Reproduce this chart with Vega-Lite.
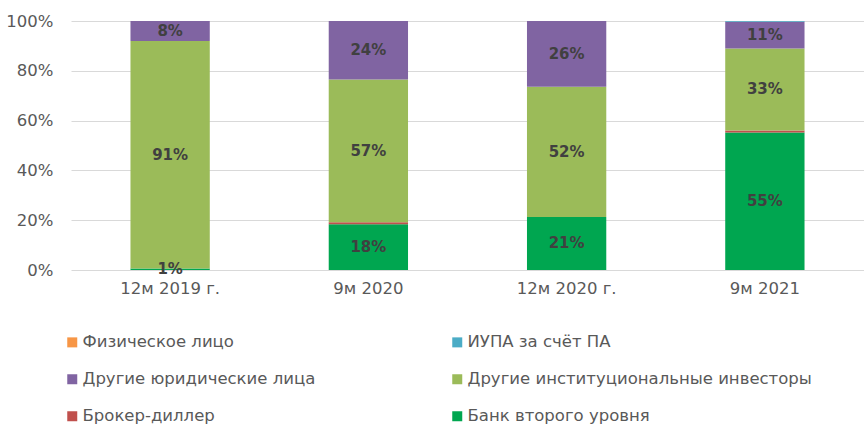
{
  "$schema": "https://vega.github.io/schema/vega-lite/v6.json",
  "width": 793,
  "height": 249,
  "autosize": "none",
  "padding": {"left": 71, "top": 21, "right": 0, "bottom": 158},
  "background": "white",
  "config": {
    "view": {"stroke": null},
    "font": "DejaVu Sans"
  },
  "data": {
    "values": [
      {"period": "12м 2019 г.", "cat": "Банк второго уровня", "ord": 1, "v": 0.6, "label": "1%"},
      {"period": "12м 2019 г.", "cat": "Другие институциональные инвесторы", "ord": 3, "v": 91.4, "label": "91%"},
      {"period": "12м 2019 г.", "cat": "Другие юридические лица", "ord": 4, "v": 8.0, "label": "8%"},
      {"period": "9м 2020", "cat": "Банк второго уровня", "ord": 1, "v": 18.4, "label": "18%"},
      {"period": "9м 2020", "cat": "Брокер-диллер", "ord": 2, "v": 0.8, "label": ""},
      {"period": "9м 2020", "cat": "Другие институциональные инвесторы", "ord": 3, "v": 57.3, "label": "57%"},
      {"period": "9м 2020", "cat": "Другие юридические лица", "ord": 4, "v": 23.5, "label": "24%"},
      {"period": "12м 2020 г.", "cat": "Банк второго уровня", "ord": 1, "v": 21.3, "label": "21%"},
      {"period": "12м 2020 г.", "cat": "Другие институциональные инвесторы", "ord": 3, "v": 52.3, "label": "52%"},
      {"period": "12м 2020 г.", "cat": "Другие юридические лица", "ord": 4, "v": 26.4, "label": "26%"},
      {"period": "9м 2021", "cat": "Банк второго уровня", "ord": 1, "v": 55.2, "label": "55%"},
      {"period": "9м 2021", "cat": "Брокер-диллер", "ord": 2, "v": 0.8, "label": ""},
      {"period": "9м 2021", "cat": "Другие институциональные инвесторы", "ord": 3, "v": 33.0, "label": "33%"},
      {"period": "9м 2021", "cat": "Другие юридические лица", "ord": 4, "v": 10.7, "label": "11%"},
      {"period": "9м 2021", "cat": "ИУПА за счёт ПА", "ord": 5, "v": 0.3, "label": ""}
    ]
  },
  "encoding": {
    "x": {
      "field": "period", "type": "nominal",
      "sort": ["12м 2019 г.", "9м 2020", "12м 2020 г.", "9м 2021"],
      "scale": {"paddingInner": 0.6, "paddingOuter": 0.3},
      "axis": {"title": null, "labelAngle": 0, "ticks": false, "domain": false, "labelFontSize": 16.5, "labelColor": "#595959", "labelPadding": 10}
    },
    "y": {
      "field": "v", "type": "quantitative", "stack": "zero",
      "scale": {"domain": [0, 100]},
      "axis": {"title": null, "values": [0, 20, 40, 60, 80, 100], "labelExpr": "datum.value + '%'", "ticks": false, "domain": false, "gridColor": "#d9d9d9", "gridWidth": 1, "labelFontSize": 16.5, "labelColor": "#595959", "labelPadding": 18}
    },
    "order": {"field": "ord", "type": "quantitative"}
  },
  "layer": [
    {
      "mark": {"type": "bar"},
      "encoding": {
        "color": {
          "field": "cat", "type": "nominal",
          "scale": {
            "domain": ["Физическое лицо", "ИУПА за счёт ПА", "Другие юридические лица", "Другие институциональные инвесторы", "Брокер-диллер", "Банк второго уровня"],
            "range": ["#F79646", "#4BACC6", "#8064A2", "#9BBB59", "#C0504D", "#00A650"]
          },
          "legend": {
            "title": null, "orient": "none", "legendX": -7, "legendY": 313,
            "direction": "horizontal",
            "columns": 2, "columnPadding": 133, "rowPadding": 20,
            "symbolType": "square", "symbolSize": 100, "symbolStrokeWidth": 0,
            "labelFontSize": 16.5, "labelColor": "#595959", "labelOffset": 2, "labelLimit": 500
          }
        }
      }
    },
    {
      "mark": {"type": "text", "fontSize": 15, "fontWeight": "bold", "color": "#404040"},
      "encoding": {
        "y": {"field": "v", "type": "quantitative", "stack": "zero", "bandPosition": 0.5},
        "text": {"field": "label"}
      }
    }
  ]
}
